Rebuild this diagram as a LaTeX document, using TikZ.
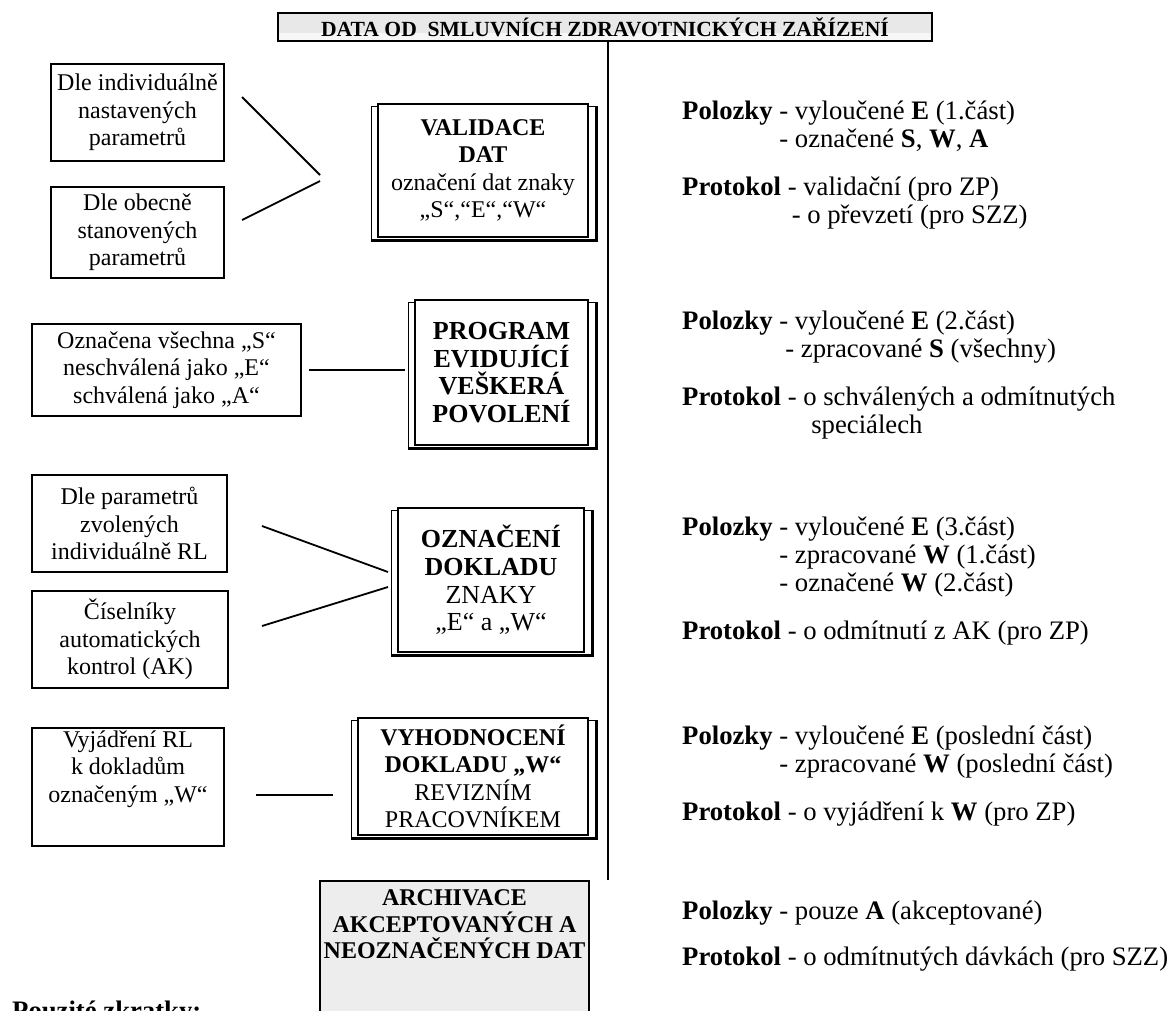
\documentclass[tikz,border=0pt]{standalone}
\usepackage{fontspec}
\setmainfont{Liberation Serif}
\usetikzlibrary{positioning, calc}

\begin{document}
\begin{tikzpicture}[
  x=1pt, y=-1pt,
  every node/.style={inner sep=0pt, font=\fontsize{24}{27.5}\selectfont},
  sidebox/.style={draw, line width=1.5pt, align=center},
  stage/.style={draw, line width=1.5pt, fill=white, align=center},
  bigstage/.style={stage, font=\fontsize{26}{27.7}\selectfont},
  conn/.style={line width=1.8pt},
  note/.style={anchor=north west, align=left, font=\fontsize{26.7}{28}\selectfont},
]
\useasboundingbox (0,0) rectangle (1170,1010);
\clip (0,0) rectangle (1170,1010);
\fill[white] (0,0) rectangle (1170,1010);

% Header and spine
\node[draw, line width=1.5pt, fill=gray!18, minimum width=654pt, minimum height=28pt,
  font=\bfseries\fontsize{21.6}{23}\selectfont,
  path picture={\fill[gray!6] ([yshift=8pt]path picture bounding box.south west)
    rectangle (path picture bounding box.south east);}]
  (src) at (605,27) {DATA OD\ \ SMLUVNÍCH ZDRAVOTNICKÝCH ZAŘÍZENÍ};
\coordinate (spineend) at (608,880);
\draw[line width=1.5pt] (src.south -| spineend) -- (spineend);

% Left side boxes
\node[sidebox, minimum width=173pt, minimum height=97pt] (d1) at (137.5,112.5)
  {Dle individuálně\\nastavených\\parametrů};
\node[sidebox, minimum width=173pt, minimum height=91pt] (d2) at (137.5,232.5)
  {Dle obecně\\stanovených\\parametrů};
\node[sidebox, minimum width=269pt, minimum height=92pt] (d3) at (166.5,370)
  {Označena všechna „S“\\neschválená jako „E“\\schválená jako „A“};
\node[sidebox, minimum width=195pt, minimum height=97pt] (d4) at (129.5,523.5)
  {Dle parametrů\\zvolených\\individuálně RL};
\node[sidebox, minimum width=196pt, minimum height=97pt] (d5) at (130,639.5)
  {Číselníky\\automatických\\kontrol (AK)};
\node[sidebox, minimum width=192pt, minimum height=118pt] (d6) at (128,787)
  {Vyjádření RL\\k dokladům\\označeným „W“\\[14pt]\mbox{}};

% Processing stages
\node[stage, minimum width=210pt, minimum height=133pt] (val) at (483,170.5)
  {\textbf{VALIDACE}\\\textbf{DAT}\\označení dat znaky\\„S“,“E“,“W“};
\node[bigstage, minimum width=173pt, minimum height=145pt] (prog) at (501.5,372.5)
  {\textbf{PROGRAM}\\\textbf{EVIDUJÍCÍ}\\\textbf{VEŠKERÁ}\\\textbf{POVOLENÍ}};
\node[bigstage, minimum width=186pt, minimum height=144pt] (ozn) at (491,580)
  {\textbf{OZNAČENÍ}\\\textbf{DOKLADU}\\ZNAKY\\„E“ a „W“};
\node[stage, minimum width=230pt, minimum height=117pt] (vyh) at (473,776.5)
  {\textbf{VYHODNOCENÍ}\\\textbf{DOKLADU „W“}\\REVIZNÍM\\PRACOVNÍKEM};
\node[stage, fill=gray!14, anchor=north, minimum width=269pt, inner ysep=9pt,
  font=\bfseries\fontsize{24}{26.5}\selectfont] (arch) at (454.5,880)
  {ARCHIVACE\\AKCEPTOVANÝCH A\\NEOZNAČENÝCH DAT\\[60pt]\mbox{}};

% Shadow frames behind the stages
\foreach \n in {val,prog,ozn,vyh} {
  \draw[line width=1.5pt] ($(\n.north west)+(0,3)$) -- ($(\n.north west)+(-6,3)$)
    -- ($(\n.south west)+(-6,3)$);
  \draw[line width=1.5pt] ($(\n.north east)+(0,3)$) -- ($(\n.north east)+(8,3)$);
  \draw[line width=3pt] ($(\n.south west)+(-6.7,3)$) -- ($(\n.south east)+(8,3)$)
    -- ($(\n.north east)+(8,2.3)$);
}

% Connectors
\coordinate (d1out) at (242,97);   \coordinate (val1) at (320,175);
\coordinate (d2out) at (242,220);  \coordinate (val2) at (320,181);
\coordinate (d3out) at (309,370);  \coordinate (prog1) at (405,370);
\coordinate (d4out) at (262,526);  \coordinate (ozn1) at (388,572);
\coordinate (d5out) at (262,626);  \coordinate (ozn2) at (388,587);
\coordinate (d6out) at (256,795);  \coordinate (vyh1) at (333,795);
\draw[conn] (d1out) -- (val1);
\draw[conn] (d2out) -- (val2);
\draw[conn] (d3out) -- (prog1);
\draw[conn] (d4out) -- (ozn1);
\draw[conn] (d5out) -- (ozn2);
\draw[conn] (d6out) -- (vyh1);

% Outputs of each stage
\node[note] (out1) at (682,101)
  {\textbf{Polozky} - vyloučené \textbf{E} (1.část)\\
   \hphantom{\textbf{Polozky} }- označené \textbf{S}, \textbf{W}, \textbf{A}\\[20pt]
   \textbf{Protokol} - validační (pro ZP)\\
   \hphantom{\textbf{Protokol} }\hspace{4pt}- o převzetí (pro SZZ)};
\node[note] (out2) at (682,310.5)
  {\textbf{Polozky} - vyloučené \textbf{E} (2.část)\\
   \hphantom{\textbf{Polozky} }\hspace{6pt}- zpracované \textbf{S} (všechny)\\[20pt]
   \textbf{Protokol} - o schválených a odmítnutých\\
   \hphantom{\textbf{Protokol} - }\hspace{8pt}speciálech};
\node[note] (out3) at (682,516.5)
  {\textbf{Polozky} - vyloučené \textbf{E} (3.část)\\
   \hphantom{\textbf{Polozky} }- zpracované \textbf{W} (1.část)\\
   \hphantom{\textbf{Polozky} }- označené \textbf{W} (2.část)\\[20pt]
   \textbf{Protokol} - o odmítnutí z AK (pro ZP)};
\node[note] (out4) at (682,725.5)
  {\textbf{Polozky} - vyloučené \textbf{E} (poslední část)\\
   \hphantom{\textbf{Polozky} }- zpracované \textbf{W} (poslední část)\\[20pt]
   \textbf{Protokol} - o vyjádření k \textbf{W} (pro ZP)};
\node[note] (out5) at (682,900.5)
  {\textbf{Polozky} - pouze \textbf{A} (akceptované)\\[18pt]
   \textbf{Protokol} - o odmítnutých dávkách (pro SZZ)};

% Legend heading, cut by the page edge
\node[anchor=base west, font=\bfseries\fontsize{26.7}{28}\selectfont] (abbr) at (12,1019.5)
  {Pouzité zkratky:};
\end{tikzpicture}
\end{document}
